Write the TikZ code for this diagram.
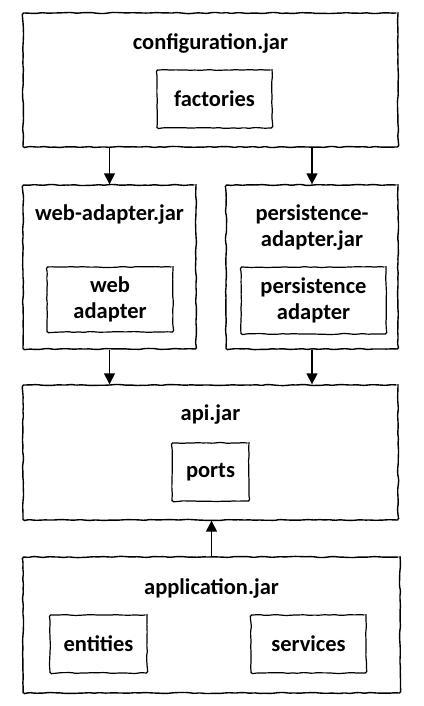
\documentclass[tikz,border=0pt]{standalone}
\usepackage{fontspec}
\setmainfont{Carlito}
\usepackage{tikz}
\usetikzlibrary{arrows.meta,decorations.pathmorphing}

\begin{document}
\pgfmathsetseed{7}
\begin{tikzpicture}[x=1pt, y=-1pt,
		jar_style/.style={draw=black, line width=1.4pt, decorate, rounded corners=1.5pt,
			decoration={random steps, segment length=5pt, amplitude=0.6pt}},
		part_style/.style={draw=black, line width=1.2pt, decorate, rounded corners=1.5pt,
			decoration={random steps, segment length=5pt, amplitude=0.5pt},
			font=\fontsize{22.5}{26}\selectfont\bfseries, align=center, inner sep=0pt},
		title_style/.style={font=\fontsize{22.5}{26}\selectfont\bfseries, align=center},
		edge_style/.style={draw=black, line width=1.5pt, -{Triangle[length=11pt,width=11pt]}}]
		
		\useasboundingbox (0,0) rectangle (423,706);
		
		% jars
		\node[jar_style, minimum width=375, minimum height=134] (config) at (210.5,80) {};
		\node[jar_style, minimum width=173, minimum height=164] (web) at (109.5,267) {};
		\node[jar_style, minimum width=172, minimum height=164] (pers) at (312,267) {};
		\node[jar_style, minimum width=375, minimum height=135] (api) at (210.5,452.5) {};
		\node[jar_style, minimum width=377, minimum height=136] (app) at (211.5,625) {};
		
		% titles
		\node[title_style] (config_title) at (210.5,43) {configuration.jar};
		\node[title_style] (web_title) at (109.5,215) {web-adapter.jar};
		\node[title_style] (pers_title) at (312,227.5) {persistence-\\adapter.jar};
		\node[title_style] (api_title) at (210.5,415) {api.jar};
		\node[title_style] (app_title) at (211.5,588) {application.jar};
		
		% parts
		\node[part_style, minimum width=115, minimum height=58] (factories) at (214.5,99) {factories};
		\node[part_style, minimum width=126, minimum height=65] (web_adapter) at (110,299.5) {web\\adapter};
		\node[part_style, minimum width=145, minimum height=67] (pers_adapter) at (313.5,300.5) {persistence\\adapter};
		\node[part_style, minimum width=77, minimum height=58] (ports) at (210.5,472) {ports};
		\node[part_style, minimum width=97, minimum height=58] (entities) at (98.5,644) {entities};
		\node[part_style, minimum width=115, minimum height=58] (services) at (308.5,644) {services};
		
		% dependencies
		\draw[edge_style] (web.north |- config.south) -- (web.north);
		\draw[edge_style] (pers.north |- config.south) -- (pers.north);
		\draw[edge_style] (web.south) -- (web.south |- api.north);
		\draw[edge_style] (pers.south) -- (pers.south |- api.north);
		\draw[edge_style] (app.north) -- (app.north |- api.south);
		
\end{tikzpicture}
\end{document}
